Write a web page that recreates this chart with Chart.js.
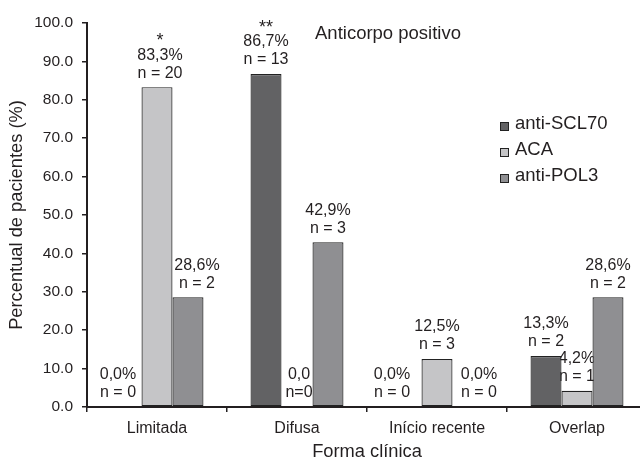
<!DOCTYPE html>
<html>
<head>
<meta charset="utf-8">
<script src="https://cdn.jsdelivr.net/npm/chart.js@4.4.0/dist/chart.umd.min.js"></script>
<style>
  html, body { margin: 0; padding: 0; overflow: hidden; background: #fff; }
  #wrap { width: 660px; height: 461px; }
</style>
</head>
<body>
<div id="wrap"><canvas id="bar-chart"></canvas></div>
<script>
var categories = ["Limitada", "Difusa", "Início recente", "Overlap"];
var seriesNames = ["anti-SCL70", "ACA", "anti-POL3"];
var scl70 = [0.0, 86.7, 0.0, 13.3];
var aca = [83.3, 0.0, 12.5, 4.2];
var pol3 = [28.6, 42.9, 0.0, 28.6];
var scl70N = [0, 13, 0, 2];
var acaN = [20, 0, 3, 1];
var pol3N = [2, 3, 0, 2];
var scl70Marks = ["", "**", "", ""];
var acaMarks = ["*", "", "", ""];
var pol3Marks = ["", "", "", ""];

var textColor = "#231f20";
var font = "'Liberation Sans', Arial, sans-serif";

// small nudges for some labels, as they sit in the original
var labelTweaks = {
  "0,0": { dx: -8 },
  "0,2": { dx: -14 },
  "1,0": { dx: 3 },
  "2,0": { dx: 9 },
  "2,2": { dx: 11 },
  "1,1": { dx: 2, pct: "0,0", n: "n=0" }
};

var barLabels = {
  id: "barLabels",
  beforeDatasetsDraw: function (chart) {
    var ctx = chart.ctx;
    var yScale = chart.scales.y;
    ctx.save();
    ctx.font = "16px " + font;
    ctx.fillStyle = textColor;
    ctx.textAlign = "center";
    ctx.textBaseline = "middle";
    chart.data.datasets.forEach(function (ds, d) {
      chart.getDatasetMeta(d).data.forEach(function (bar, i) {
        var top = yScale.getPixelForValue(ds.data[i]);
        var tw = labelTweaks[d + "," + i] || {};
        var x = bar.x + (tw.dx || 0);
        var pct = tw.pct || ds.data[i].toFixed(1).replace(".", ",") + "%";
        var n = tw.n || "n = " + ds.counts[i];
        ctx.fillText(n, x, top - 14);
        ctx.fillText(pct, x, top - 32);
        if (ds.marks[i]) {
          ctx.font = "18px " + font;
          ctx.fillText(ds.marks[i], x, top - 46);
          ctx.font = "16px " + font;
        }
      });
    });
    ctx.restore();
  },
  afterDraw: function (chart) {
    var ctx = chart.ctx;
    ctx.save();
    ctx.fillStyle = textColor;
    ctx.textAlign = "left";
    ctx.textBaseline = "alphabetic";
    ctx.font = "18.5px " + font;
    ctx.fillText("Anticorpo positivo", 315, 39);
    chart.data.datasets.forEach(function (ds, d) {
      var y = 122 + d * 26;
      ctx.fillStyle = ds.backgroundColor;
      ctx.fillRect(500, y, 8, 8);
      ctx.strokeStyle = "#222";
      ctx.lineWidth = 1;
      ctx.strokeRect(500.5, y + 0.5, 8, 8);
      ctx.fillStyle = textColor;
      ctx.fillText(ds.label, 515, y + 6.5);
    });
    ctx.restore();
  }
};

new Chart(document.getElementById("bar-chart"), {
  type: "bar",
  data: {
    labels: categories,
    datasets: [
      { label: seriesNames[0], data: scl70, counts: scl70N, marks: scl70Marks, backgroundColor: "#626264" },
      { label: seriesNames[1], data: aca, counts: acaN, marks: acaMarks, backgroundColor: "#c5c5c7" },
      { label: seriesNames[2], data: pol3, counts: pol3N, marks: pol3Marks, backgroundColor: "#8f8f92" }
    ]
  },
  options: {
    responsive: true,
    maintainAspectRatio: false,
    animation: false,
    layout: { padding: { top: 23, right: 13, bottom: 0, left: 0 } },
    datasets: {
      bar: { categoryPercentage: 0.664, barPercentage: 1.0, borderWidth: 1.2, borderColor: "#222", borderSkipped: false }
    },
    plugins: {
      legend: { display: false },
      tooltip: { enabled: false }
    },
    scales: {
      x: {
        offset: true,
        grid: { offset: true, drawOnChartArea: false, color: textColor, lineWidth: 1.5, tickLength: 5 },
        border: { color: textColor, width: 2 },
        ticks: { color: textColor, font: { family: font, size: 16 }, padding: 7 },
        title: { display: true, text: "Forma clínica", color: textColor, font: { family: font, size: 18.3 }, padding: { top: 0, bottom: -2 } },
        afterFit: function (scale) { scale.height = 54; }
      },
      y: {
        min: 0,
        max: 100,
        ticks: {
          stepSize: 10,
          color: textColor,
          font: { family: font, size: 15.5 },
          padding: 9,
          callback: function (v) { return v.toFixed(1); }
        },
        grid: { drawOnChartArea: false, color: textColor, lineWidth: 1.5, tickLength: 5 },
        border: { color: textColor, width: 2 },
        title: { display: true, text: "Percentual de pacientes (%)", color: textColor, font: { family: font, size: 18.3 }, padding: { top: 6, bottom: 0 } },
        afterFit: function (scale) { scale.width = 87; }
      }
    }
  },
  plugins: [barLabels]
});
</script>
</body>
</html>
